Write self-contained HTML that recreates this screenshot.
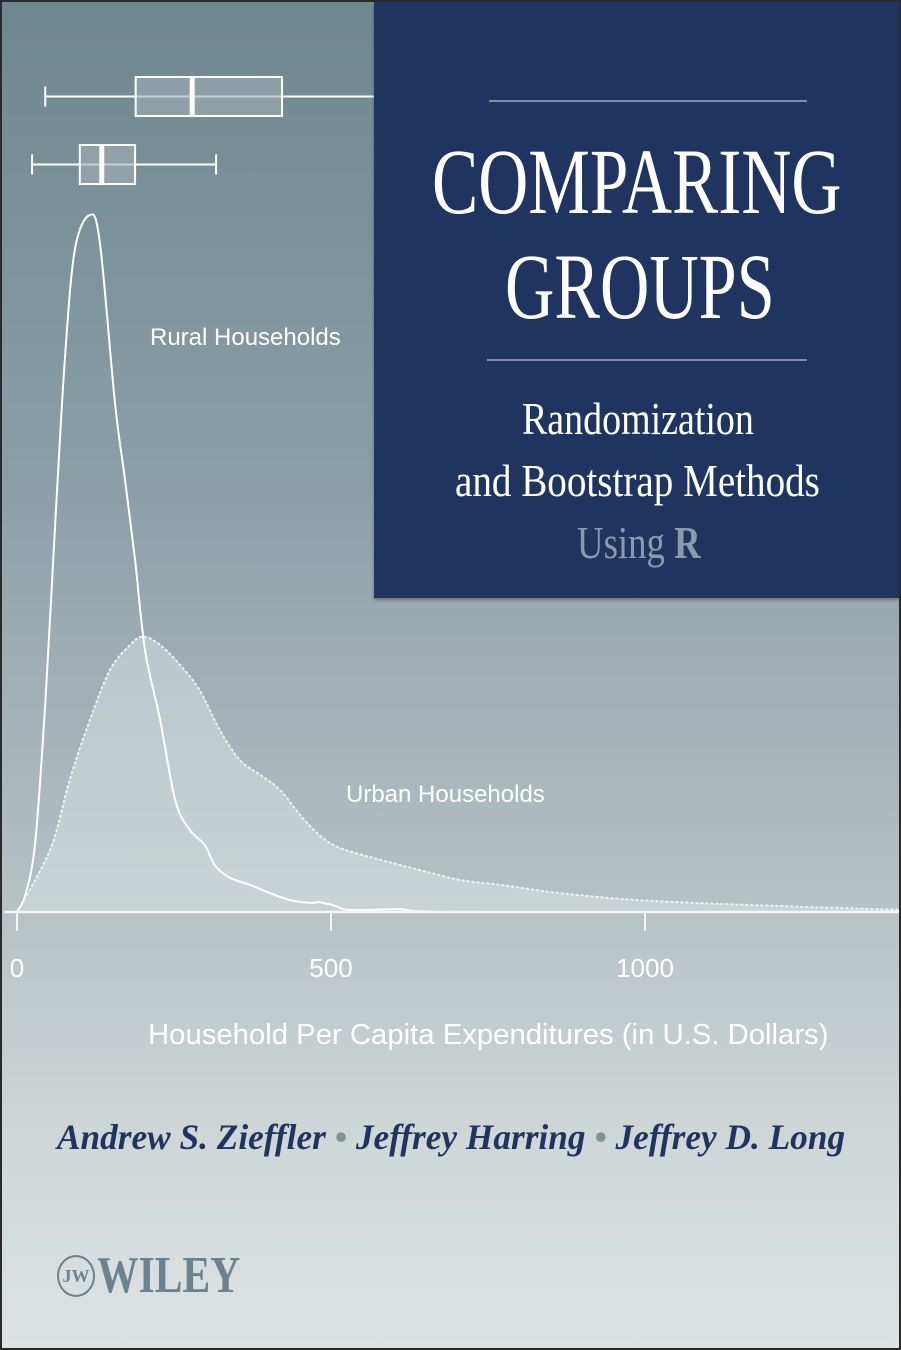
<!DOCTYPE html>
<html><head><meta charset="utf-8"><style>
html,body{margin:0;padding:0}
body{width:901px;height:1350px;overflow:hidden;background:#2a2a2a;position:relative}
#cover{position:absolute;left:2px;top:2px;width:897px;height:1346px;background:linear-gradient(180deg,#6f8790 0%,#8a9ea6 35%,#b4bfc2 65%,#d0d7d8 85%,#dde3e3 100%);overflow:hidden}
.serif{font-family:"Liberation Serif",serif}
.sans{font-family:"Liberation Sans",sans-serif}
.cx{position:absolute;white-space:nowrap;transform-origin:0 0}
</style></head><body>
<div id="cover">
<svg id="chart" width="897" height="1346" style="position:absolute;left:0;top:0"></svg>
<div style="position:absolute;left:372px;top:0;width:525px;height:596px;background:#1f3560;box-shadow:0 2px 3px rgba(0,0,0,0.3)">
  <div style="position:absolute;left:115px;top:98px;width:318px;height:2px;background:#7e8ea9"></div>
  <div style="position:absolute;left:113px;top:357px;width:320px;height:2px;background:#7e8ea9"></div>
  <div class="cx serif" style="left:58px;top:127px;font-size:93px;color:#fff;transform:scaleX(0.745)">COMPARING</div>
  <div class="cx serif" style="left:131px;top:232px;font-size:93px;color:#fff;transform:scaleX(0.735)">GROUPS</div>
  <div class="cx serif" style="left:148px;top:390px;font-size:46px;color:#fff;transform:scaleX(0.825)">Randomization</div>
  <div class="cx serif" style="left:81px;top:452px;font-size:46px;color:#fff;transform:scaleX(0.85)">and Bootstrap Methods</div>
  <div class="cx serif" style="left:203px;top:514px;font-size:46px;color:#8a9bad;transform:scaleX(0.8)">Using <b>R</b></div>
</div>
<div class="cx sans" style="left:148px;top:322px;font-size:24px;color:#fff">Rural Households</div>
<div class="cx sans" style="left:344px;top:779px;font-size:24px;color:#fff">Urban Households</div>
<div class="cx sans" style="left:146px;top:1017px;font-size:29px;color:#fff;transform:scaleX(1.01)">Household Per Capita Expenditures (in U.S. Dollars)</div>
<div class="cx serif" style="left:55px;top:1114px;font-size:36px;font-style:italic;font-weight:bold;color:#1f3560;transform:scaleX(0.98)">Andrew S. Zieffler <span style="color:#7f9397">•</span> Jeffrey Harring <span style="color:#7f9397">•</span> Jeffrey D. Long</div>
<div style="position:absolute;left:55px;top:1251px;width:182px;height:46px">
  <div style="position:absolute;left:0;top:2px;width:38px;height:42px;border:2px solid #6b8290;border-radius:50%;box-sizing:border-box;font:bold 18px 'Liberation Serif',serif;color:#6b8290;text-align:center;line-height:38px">JW</div>
  <div class="cx serif" style="left:40px;top:-7px;font-size:52px;font-weight:bold;color:#6b8290;transform:scaleX(0.8)">WILEY</div>
</div>
</div>
<script>
const ruralX=[0,13,29,45,61,76,92,116,132,156,172,188,204,228,252,275,299,315,339,371,403,435,467,482,506,530,610,640,770,1410];
const ruralY=[0,0.024,0.10,0.30,0.56,0.79,0.95,1.0,0.96,0.73,0.62,0.505,0.375,0.275,0.16,0.118,0.096,0.067,0.049,0.039,0.027,0.017,0.013,0.014,0.009,0.003,0.004,0.001,0,0];
const urbanX=[0,53,84,116,148,180,201,228,260,291,323,355,387,419,451,482,514,578,642,705,769,865,992,1167,1410];
const urbanY=[0,0.09,0.19,0.275,0.347,0.383,0.395,0.383,0.354,0.318,0.261,0.218,0.197,0.175,0.139,0.11,0.092,0.075,0.06,0.046,0.039,0.027,0.017,0.01,0.003];
const urbanBox=[45,189,279,422,800];
const ruralBox=[24,100,135,188,317];
const tickVals=[0,500,1000];
const tickLabels=["0","500","1000"];
const NS="http://www.w3.org/2000/svg";
const svg=document.getElementById('chart');
const ox=-2,oy=-2;
function xs(v){return 17+v*0.628+ox;}
function ys(d){return 912-d*697+oy;}
function mk(t,a){const e=document.createElementNS(NS,t);for(const k in a)e.setAttribute(k,a[k]);svg.appendChild(e);return e;}
function pathOf(X,Y){
  const P=X.map((x,i)=>[xs(x),ys(Y[i])]);
  let s='M'+P[0][0].toFixed(1)+','+P[0][1].toFixed(1);
  for(let i=0;i<P.length-1;i++){
    const p0=P[Math.max(0,i-1)],p1=P[i],p2=P[i+1],p3=P[Math.min(P.length-1,i+2)];
    const c1=[p1[0]+(p2[0]-p0[0])/6,p1[1]+(p2[1]-p0[1])/6];
    const c2=[p2[0]-(p3[0]-p1[0])/6,p2[1]-(p3[1]-p1[1])/6];
    s+='C'+c1[0].toFixed(1)+','+c1[1].toFixed(1)+' '+c2[0].toFixed(1)+','+c2[1].toFixed(1)+' '+p2[0].toFixed(1)+','+p2[1].toFixed(1);
  }
  return s;
}
const uf=mk('path',{d:pathOf(urbanX,urbanY)+'L'+xs(urbanX[urbanX.length-1])+','+ys(0)+'L'+xs(0)+','+ys(0)+'Z',fill:'rgba(225,232,233,0.45)',stroke:'none'});


const ul=mk('path',{d:pathOf(urbanX,urbanY),fill:'none',stroke:'#eef2f2','stroke-width':2,'stroke-dasharray':'1.5 3.5','stroke-linecap':'round'});


const rl=mk('path',{d:pathOf(ruralX,ruralY),fill:'none',stroke:'#ffffff','stroke-width':2});


const ax=mk('line',{x1:xs(-20),x2:xs(1410),y1:ys(0),y2:ys(0),stroke:'#f4f6f6','stroke-width':2.5});


tickVals.forEach((v,i)=>{
  const t=mk('line',{x1:xs(v),x2:xs(v),y1:ys(0),y2:ys(0)+19,stroke:'#f4f6f6','stroke-width':2});
  
  
  const l=mk('text',{x:xs(v),y:ys(0)+65,fill:'#fff','font-size':26,'font-family':'Liberation Sans, sans-serif','text-anchor':'middle'});
  l.textContent=tickLabels[i];
  
  
});
function box(b,yTop,yBot,name){
  const yc=(yTop+yBot)/2;
  const w=mk('line',{x1:xs(b[0]),x2:xs(b[4]),y1:yc,y2:yc,stroke:'#fff','stroke-width':2});
  
  
  [b[0],b[4]].forEach(v=>{const c=mk('line',{x1:xs(v),x2:xs(v),y1:yc-10,y2:yc+10,stroke:'#fff','stroke-width':2});
    
    });
  const r=mk('rect',{x:xs(b[1]),y:yTop,width:xs(b[3])-xs(b[1]),height:yBot-yTop,fill:'rgba(160,175,180,0.6)',stroke:'#fff','stroke-width':2});
  
  
  const m=mk('line',{x1:xs(b[2]),x2:xs(b[2]),y1:yTop,y2:yBot,stroke:'#fff','stroke-width':5});
  
  
}
box(urbanBox,75,114,'urban-boxplot');
box(ruralBox,143,182,'rural-boxplot');
</script>
</body></html>
